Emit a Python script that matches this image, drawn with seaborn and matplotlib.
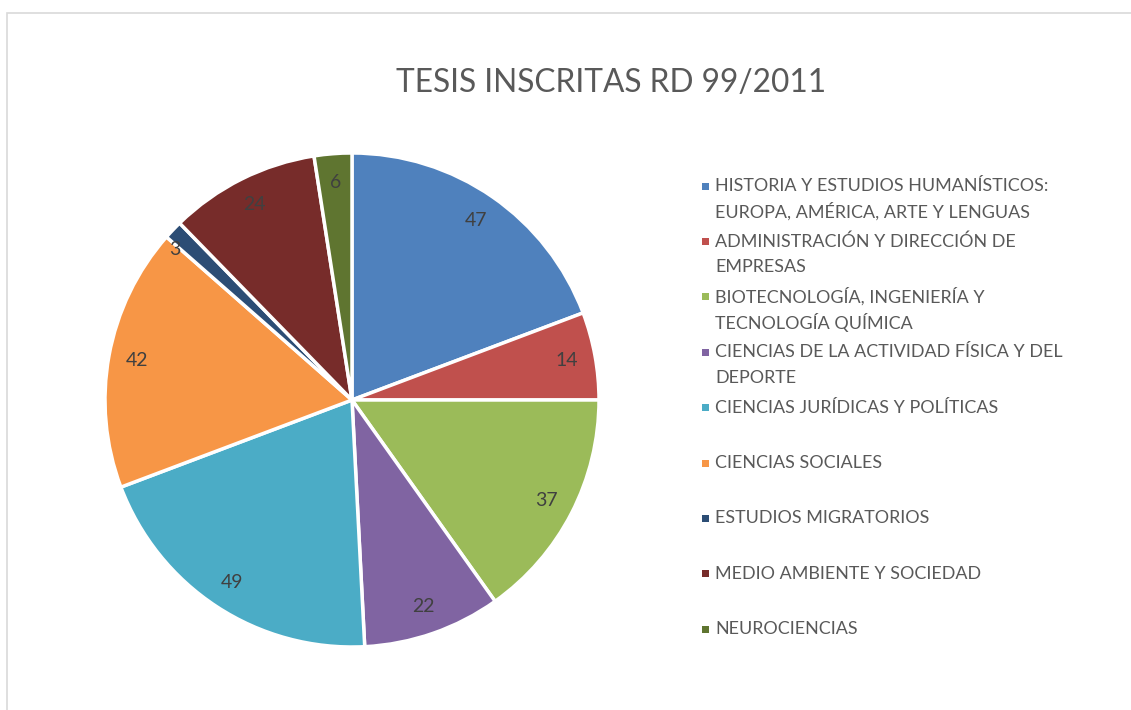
import matplotlib
matplotlib.use("Agg")
import matplotlib.pyplot as plt
import seaborn as sns
from matplotlib.patches import Rectangle

sns.set_theme(style="white")
plt.rcParams['font.family'] = ['Lato', 'DejaVu Sans']

# -------------------
# Data
# -------------------
categories = [
    "HISTORIA Y ESTUDIOS HUMANÍSTICOS:\nEUROPA, AMÉRICA, ARTE Y LENGUAS",
    "ADMINISTRACIÓN Y DIRECCIÓN DE\nEMPRESAS",
    "BIOTECNOLOGÍA, INGENIERÍA Y\nTECNOLOGÍA QUÍMICA",
    "CIENCIAS DE LA ACTIVIDAD FÍSICA Y DEL\nDEPORTE",
    "CIENCIAS JURÍDICAS Y POLÍTICAS",
    "CIENCIAS SOCIALES",
    "ESTUDIOS MIGRATORIOS",
    "MEDIO AMBIENTE Y SOCIEDAD",
    "NEUROCIENCIAS",
]
tesis = [47, 14, 37, 22, 49, 42, 3, 24, 6]
colors = sns.color_palette(["#4F81BD", "#C0504D", "#9BBB59", "#8064A2", "#4BACC6",
                            "#F79646", "#2C4D75", "#772C2A", "#5F7530"])

W, H = 1131, 710
fig = plt.figure(figsize=(W / 100, H / 100), dpi=100)

# chart area border (partially visible)
fig.add_artist(Rectangle((7 / W, -0.1), 2, 1 - 13 / H + 0.1, transform=fig.transFigure,
                         fill=False, edgecolor="#d9d9d9", linewidth=1.2))

# -------------------
# Pie
# -------------------
cx, cy, r = 352, 400, 247
ax = fig.add_axes([(cx - r) / W, 1 - (cy + r) / H, 2 * r / W, 2 * r / H])
wedges, texts = ax.pie(tesis, colors=colors, startangle=90, counterclock=False,
                       labels=[str(v) for v in tesis], labeldistance=0.885,
                       wedgeprops=dict(edgecolor="white", linewidth=2.5),
                       textprops=dict(fontsize=14, color="#404040"))
for t in texts:
    t.set_horizontalalignment("center")
    t.set_verticalalignment("center")
# the tiny slice label is pushed outward, as in the original
x3, y3 = texts[6].get_position()
texts[6].set_position((x3 - 0.075, y3))
ax.set_aspect("equal")
ax.set_xlim(-1, 1)
ax.set_ylim(-1, 1)
ax.axis("off")

fig.text(611 / W, 1 - 83 / H, "TESIS INSCRITAS RD 99/2011", ha="center", va="center",
         fontsize=22.8, color="#595959")

# -------------------
# Legend
# -------------------
for i, (name, col) in enumerate(zip(categories, colors)):
    y0 = 186 + i * 55.4
    fig.add_artist(Rectangle(((705 - 3.5) / W, 1 - (y0 + 3.5) / H), 7 / W, 7 / H,
                             transform=fig.transFigure, facecolor=col, edgecolor="none"))
    for k, line in enumerate(name.split("\n")):
        fig.text(715 / W, 1 - (y0 + k * 25.5) / H, line, ha="left", va="center",
                 fontsize=12.9, color="#595959")

fig.savefig("out.png", dpi=100, facecolor="white")
